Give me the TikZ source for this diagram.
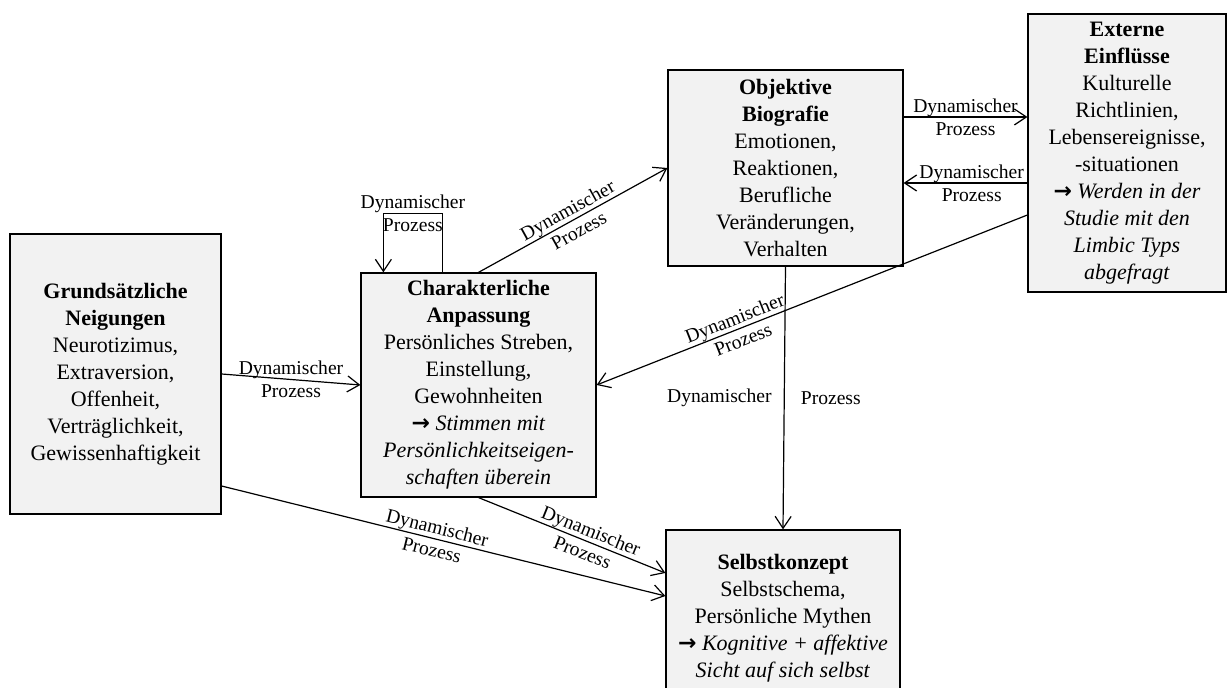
\documentclass[tikz,border=0pt]{standalone}
\usepackage{fontspec}
\setmainfont{Liberation Serif}
\newfontfamily\arrowfont{DejaVu Sans}
\usetikzlibrary{
    arrows.meta,
    positioning,
    calc
}
\definecolor{boxgray}{HTML}{F2F2F2}
\newcommand{\hint}{{\arrowfont\bfseries →}}
\tikzset{
    % --- Concept box (grey fill, thin frame) ---
    concept/.style = {
        rectangle, draw, fill=boxgray, line width=0.6pt,
        inner sep=0pt, align=center,
        font=\fontsize{11}{13.5}\selectfont
    },
    % --- Label on a process arrow (two lines, split by the arrow) ---
    proc label/.style = {
        font=\fontsize{9.8}{11.5}\selectfont, inner sep=0pt, align=center
    },
    % --- Process arrow (open barb tip) ---
    process/.style = {
        -{Straight Barb[length=6pt,width=8pt]}, line width=0.6pt
    }
}

\begin{document}
\begin{tikzpicture}[x=0.5pt, y=-0.5pt]

\clip (0,0) rectangle (1232,688);

% ---------------------------------------------------------
% Concept boxes
% ---------------------------------------------------------
\node[concept, minimum width=105.5pt, minimum height=140pt] (neigungen) at (115.5,374) {%
    \textbf{Grundsätzliche}\\
    \textbf{Neigungen}\\
    Neurotizimus,\\
    Extraversion,\\
    Offenheit,\\
    Verträglichkeit,\\
    Gewissenhaftigkeit
};

\node[concept, minimum width=117.5pt, minimum height=112pt] (anpassung) at (478.5,385) {%
    \textbf{Charakterliche}\\
    \textbf{Anpassung}\\
    Persönliches Streben,\\
    Einstellung,\\
    Gewohnheiten\\
    \hint\ \textit{Stimmen mit}\\
    \textit{Persönlichkeitseigen-}\\
    \textit{schaften überein}
};

\node[concept, minimum width=117.5pt, minimum height=98pt] (biografie) at (785.5,168) {%
    \textbf{Objektive}\\
    \textbf{Biografie}\\
    Emotionen,\\
    Reaktionen,\\
    Berufliche\\
    Veränderungen,\\
    Verhalten
};

\node[concept, minimum width=99pt, minimum height=139pt] (einfluesse) at (1127,153) {%
    \textbf{Externe}\\
    \textbf{Einflüsse}\\
    Kulturelle\\
    Richtlinien,\\
    Lebensereignisse,\\
    -situationen\\
    \hint\ \textit{Werden in der}\\
    \textit{Studie mit den}\\
    \textit{Limbic Typs}\\
    \textit{abgefragt}
};

\node[concept, minimum width=117pt, minimum height=88pt] (selbst) at (783,618) {%
    \textbf{Selbstkonzept}\\
    Selbstschema,\\
    Persönliche Mythen\\
    \hint\ \textit{Kognitive + affektive}\\
    \textit{Sicht auf sich selbst}
};

% ---------------------------------------------------------
% Process arrows
% ---------------------------------------------------------
\draw[process] (neigungen.east) --
    node[proc label]{Dynamischer\\Prozess} (anpassung.west);

\draw[process] ([yshift=-56pt]neigungen.east) --
    node[proc label, sloped, pos=0.48]{Dynamischer\\Prozess} ([yshift=11pt]selbst.west);

\draw[process] (anpassung.south) --
    node[proc label, sloped, pos=0.58]{Dynamischer\\Prozess} ([yshift=22.5pt]selbst.west);

% Feedback loop on itself
\draw[process] ([xshift=41pt]anpassung.north west) -- ++(0,-59) -- ++(-59,0)
    node[proc label, midway]{Dynamischer\\Prozess} -- ++(0,59);

\draw[process] (anpassung.north) --
    node[proc label, sloped]{Dynamischer\\Prozess} (biografie.west);

\draw[process] ([yshift=25.5pt]biografie.east) --
    node[proc label]{Dynamischer\\Prozess} ([yshift=25.5pt]biografie.east -| einfluesse.west);

\draw[process] ([yshift=-7.5pt]biografie.east -| einfluesse.west) --
    node[proc label, pos=0.45]{Dynamischer\\Prozess} ([yshift=-7.5pt]biografie.east);

\draw[process] ([yshift=-31pt]einfluesse.west) --
    node[proc label, sloped, pos=0.67]{Dynamischer\\Prozess} (anpassung.east);

\draw[process] (biografie.south) --
    node[proc label, left=6pt]{Dynamischer}
    node[proc label, right=8pt]{Prozess} (selbst.north);

\end{tikzpicture}
\end{document}
